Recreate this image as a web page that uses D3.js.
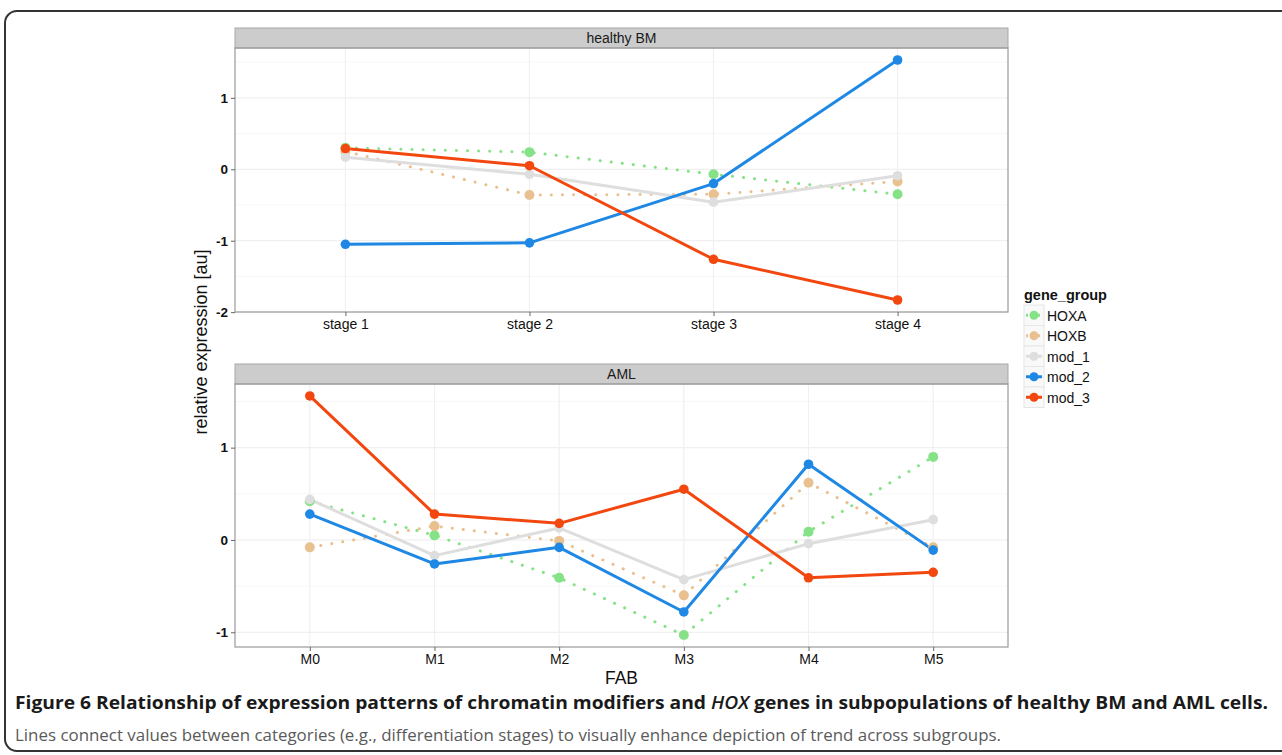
<!DOCTYPE html>
<html><head><meta charset="utf-8">
<script src="https://cdn.jsdelivr.net/npm/d3@7"></script>
<style>
html,body{margin:0;padding:0;background:#fff;}
svg{display:block;}
</style></head>
<body>
<svg id="chart" width="1282" height="755"></svg>
<script>
// ---- data ----
const groups = ["HOXA", "HOXB", "mod_1", "mod_2", "mod_3"];
const stages = ["stage 1", "stage 2", "stage 3", "stage 4"];
const fab = ["M0", "M1", "M2", "M3", "M4", "M5"];

const healthyHOXA  = [0.30, 0.24, -0.07, -0.35];
const healthyHOXB  = [0.25, -0.36, -0.35, -0.17];
const healthyMod1  = [0.17, -0.07, -0.46, -0.09];
const healthyMod2  = [-1.05, -1.03, -0.20, 1.53];
const healthyMod3  = [0.29, 0.05, -1.26, -1.83];

const amlHOXA = [0.42, 0.05, -0.41, -1.03, 0.09, 0.90];
const amlHOXB = [-0.08, 0.15, -0.01, -0.60, 0.62, -0.08];
const amlMod1 = [0.44, -0.17, 0.13, -0.43, -0.04, 0.22];
const amlMod2 = [0.28, -0.26, -0.08, -0.78, 0.82, -0.11];
const amlMod3 = [1.56, 0.28, 0.18, 0.55, -0.41, -0.35];

const topTicks = [-2, -1, 0, 1];
const bottomTicks = [-1, 0, 1];

const colors = {HOXA:"#86e286", HOXB:"#e9c08f", mod_1:"#dedede", mod_2:"#1f88e5", mod_3:"#f2480f"};
const dotted = {HOXA:true, HOXB:true, mod_1:false, mod_2:false, mod_3:false};

const healthy = [healthyHOXA, healthyHOXB, healthyMod1, healthyMod2, healthyMod3];
const aml = [amlHOXA, amlHOXB, amlMod1, amlMod2, amlMod3];

const svg = d3.select("#chart");
const FONT = "'Liberation Sans', Arial, Helvetica, sans-serif";

// frame
svg.append("rect").attr("x", 5).attr("y", 11).attr("width", 1320).attr("height", 740)
  .attr("rx", 12).attr("fill", "none").attr("stroke", "#333").attr("stroke-width", 2);

const L = 235, R = 1008;

function panel(cfg) {
  const {cats, series, ticks, minorTicks, stripTop, stripBot, plotBot, title} = cfg;
  const all = series.flat();
  const lo = d3.min(all), hi = d3.max(all), ex = (hi - lo) * 0.05;
  const y = d3.scaleLinear().domain([lo - ex, hi + ex]).range([plotBot, stripBot]);
  const x = d3.scalePoint().domain(cats).range([L, R]).padding(0.6);
  const g = svg.append("g");
  g.append("rect").attr("x", L).attr("y", stripBot).attr("width", R - L).attr("height", plotBot - stripBot).attr("fill", "#fff");
  g.selectAll(".ymin").data(minorTicks).join("line")
    .attr("x1", L).attr("x2", R).attr("y1", d => y(d)).attr("y2", d => y(d))
    .attr("stroke", "#f7f7f7").attr("stroke-width", 1);
  g.selectAll(".ymaj").data(ticks).join("line")
    .attr("x1", L).attr("x2", R).attr("y1", d => y(d)).attr("y2", d => y(d))
    .attr("stroke", "#f0f0f0").attr("stroke-width", 1.2);
  g.selectAll(".xmaj").data(cats).join("line")
    .attr("x1", d => x(d)).attr("x2", d => x(d)).attr("y1", stripBot).attr("y2", plotBot)
    .attr("stroke", "#f0f0f0").attr("stroke-width", 1.2);
  g.append("rect").attr("x", L).attr("y", stripTop).attr("width", R - L).attr("height", stripBot - stripTop)
    .attr("fill", "#cccccc").attr("stroke", "#a8a8a8").attr("stroke-width", 1);
  g.append("text").attr("x", (L + R) / 2).attr("y", (stripTop + stripBot) / 2 + 5)
    .attr("text-anchor", "middle").attr("font-family", FONT).attr("font-size", 14).attr("fill", "#1a1a1a").text(title);
  const line = d3.line().x((d, i) => x(cats[i])).y(d => y(d));
  series.forEach((vals, k) => {
    const gr = groups[k];
    g.append("path").datum(vals).attr("d", line).attr("fill", "none")
      .attr("stroke", colors[gr]).attr("stroke-width", 3)
      .attr("stroke-linecap", dotted[gr] ? "round" : "butt")
      .attr("stroke-linejoin", "round")
      .attr("stroke-dasharray", dotted[gr] ? "0.1 11" : null);
  });
  series.forEach((vals, k) => {
    const gr = groups[k];
    g.selectAll(null).data(vals).join("circle")
      .attr("cx", (d, i) => x(cats[i])).attr("cy", d => y(d))
      .attr("r", dotted[gr] ? 5 : 4.8).attr("fill", colors[gr]);
  });
  g.append("rect").attr("x", L).attr("y", stripBot).attr("width", R - L).attr("height", plotBot - stripBot)
    .attr("fill", "none").attr("stroke", "#9a9a9a").attr("stroke-width", 1.2);
  const ya = svg.append("g").attr("transform", `translate(${L},0)`)
    .call(d3.axisLeft(y).tickValues(ticks).tickSize(4).tickPadding(3).tickFormat(d => String(d)));
  ya.select(".domain").remove();
  ya.selectAll("line").attr("stroke", "#666");
  ya.selectAll("text").attr("font-family", FONT).attr("font-size", 13.5).attr("fill", "#111").style("font-weight", "bold");
  const xa = svg.append("g").attr("transform", `translate(0,${plotBot})`)
    .call(d3.axisBottom(x).tickSize(4).tickPadding(3));
  xa.select(".domain").remove();
  xa.selectAll("line").attr("stroke", "#666");
  xa.selectAll("text").attr("font-family", FONT).attr("font-size", 14).attr("fill", "#111");
}

panel({cats: stages, series: healthy, ticks: topTicks, minorTicks: [-1.5, -0.5, 0.5, 1.5],
  stripTop: 28, stripBot: 48, plotBot: 312, title: "healthy BM"});
panel({cats: fab, series: aml, ticks: bottomTicks, minorTicks: [-0.5, 0.5, 1.5],
  stripTop: 364, stripBot: 384, plotBot: 647, title: "AML"});

svg.append("text").attr("transform", "translate(207,342) rotate(-90)").attr("text-anchor", "middle")
  .attr("font-family", FONT).attr("font-size", 18).attr("fill", "#111").text("relative expression [au]");
svg.append("text").attr("x", (L + R) / 2).attr("y", 684).attr("text-anchor", "middle")
  .attr("font-family", FONT).attr("font-size", 17.5).attr("fill", "#111").text("FAB");

const lg = svg.append("g").attr("transform", "translate(1024,0)");
lg.append("text").attr("x", 0).attr("y", 300).attr("font-family", FONT).attr("font-size", 14.5)
  .attr("font-weight", "bold").attr("fill", "#111").text("gene_group");
groups.forEach((gr, i) => {
  const yy = 305 + i * 20.5;
  lg.append("rect").attr("x", 0).attr("y", yy).attr("width", 20).attr("height", 20.5)
    .attr("fill", "#f9f9f9").attr("stroke", "#e6e6e6").attr("stroke-width", 1);
  lg.append("line").attr("x1", 2).attr("x2", 18).attr("y1", yy + 10.25).attr("y2", yy + 10.25)
    .attr("stroke", colors[gr]).attr("stroke-width", 3)
    .attr("stroke-dasharray", dotted[gr] ? "2 2" : null);
  lg.append("circle").attr("cx", 10).attr("cy", yy + 10.25).attr("r", 4.5).attr("fill", colors[gr]);
  lg.append("text").attr("x", 23).attr("y", yy + 15.5).attr("font-family", FONT).attr("font-size", 14)
    .attr("fill", "#111").text(gr);
});

const CAP = "'Open Sans', 'Noto Sans', sans-serif";
const t1 = svg.append("text").attr("x", 15).attr("y", 709).attr("font-family", CAP).attr("font-size", 18)
  .attr("fill", "#1a1a1a").attr("textLength", 1253).attr("lengthAdjust", "spacingAndGlyphs");
t1.append("tspan").attr("font-weight", "bold").text("Figure 6 Relationship of expression patterns of chromatin modifiers and ");
t1.append("tspan").attr("font-weight", "600").attr("font-style", "italic").text("HOX");
t1.append("tspan").attr("font-weight", "bold").text(" genes in subpopulations of healthy BM and AML cells.");
svg.append("text").attr("x", 15).attr("y", 741).attr("font-family", CAP).attr("font-size", 17)
  .attr("fill", "#5a5a5a").attr("textLength", 986).attr("lengthAdjust", "spacingAndGlyphs")
  .text("Lines connect values between categories (e.g., differentiation stages) to visually enhance depiction of trend across subgroups.");
</script>
</body></html>
